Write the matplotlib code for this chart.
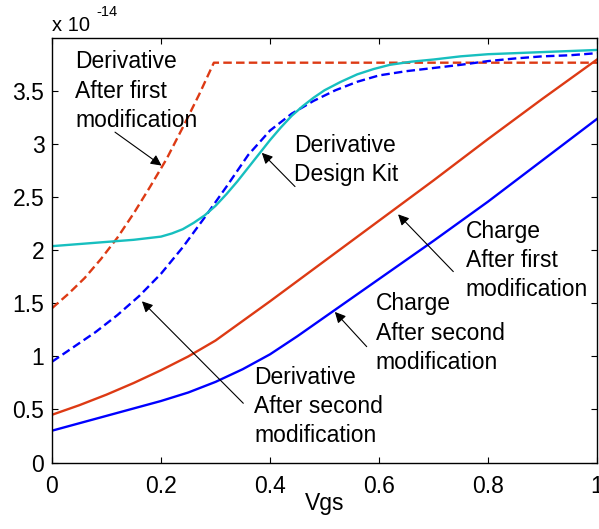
import numpy as np
import matplotlib
matplotlib.use("Agg")
import matplotlib.pyplot as plt

plt.rcParams['font.family'] = ['Liberation Sans', 'DejaVu Sans']

SCALE = 1e-14

# Derivative after first modification (red dashed)
x_der1 = [0.0, 0.03, 0.06, 0.09, 0.12, 0.15, 0.18, 0.21, 0.24, 0.27, 0.297, 1.0]
y_der1 = [1.455, 1.59, 1.74, 1.92, 2.12, 2.35, 2.60, 2.86, 3.16, 3.47, 3.77, 3.77]

# Derivative after second modification (blue dashed)
x_der2 = [0.0, 0.04, 0.08, 0.12, 0.16, 0.20, 0.24, 0.28, 0.32, 0.36, 0.40, 0.44,
          0.48, 0.52, 0.56, 0.60, 0.65, 0.70, 0.75, 0.80, 0.85, 0.90, 0.95, 1.0]
y_der2 = [0.95, 1.09, 1.23, 1.39, 1.57, 1.78, 2.03, 2.31, 2.60, 2.90, 3.13, 3.29,
          3.41, 3.51, 3.59, 3.65, 3.69, 3.72, 3.75, 3.785, 3.81, 3.83, 3.84, 3.86]

# Derivative from the design kit (cyan)
x_kit = [0.0, 0.05, 0.10, 0.15, 0.20, 0.22, 0.24, 0.26, 0.28, 0.30, 0.32, 0.34,
         0.36, 0.38, 0.40, 0.42, 0.44, 0.46, 0.48, 0.50, 0.53, 0.56, 0.59, 0.62,
         0.66, 0.70, 0.75, 0.80, 0.85, 0.90, 0.95, 1.0]
y_kit = [2.04, 2.06, 2.08, 2.10, 2.13, 2.16, 2.20, 2.26, 2.33, 2.42, 2.53, 2.65,
         2.78, 2.91, 3.04, 3.16, 3.27, 3.36, 3.44, 3.51, 3.59, 3.66, 3.71, 3.75,
         3.78, 3.80, 3.83, 3.85, 3.86, 3.87, 3.88, 3.89]

# Charge after first modification (red solid)
x_q1 = [0.0, 0.05, 0.1, 0.15, 0.2, 0.25, 0.3, 0.4, 0.5, 0.6, 0.7, 0.8, 0.9, 1.0]
y_q1 = [0.45, 0.54, 0.64, 0.75, 0.87, 1.00, 1.15, 1.52, 1.90, 2.28, 2.66, 3.05, 3.43, 3.80]

# Charge after second modification (blue solid)
x_q2 = [0.0, 0.05, 0.1, 0.15, 0.2, 0.25, 0.3, 0.35, 0.4, 0.45, 0.5, 0.6, 0.7, 0.8, 0.9, 1.0]
y_q2 = [0.30, 0.37, 0.44, 0.51, 0.58, 0.66, 0.76, 0.88, 1.02, 1.19, 1.37, 1.73, 2.09, 2.46, 2.85, 3.24]

y_ticks = [0, 0.5, 1, 1.5, 2, 2.5, 3, 3.5]
y_tick_labels = ['0', '0.5', '1', '1.5', '2', '2.5', '3', '3.5']
x_ticks = [0, 0.2, 0.4, 0.6, 0.8, 1]
x_tick_labels = ['0', '0.2', '0.4', '0.6', '0.8', '1']

RED = '#dd3a14'
BLUE = '#0000ff'
CYAN = '#17bfbf'

FS = 16.5
LW = 1.7

fig = plt.figure(figsize=(5.99, 5.29), dpi=100)
ax = fig.add_axes([0.0868, 0.1257, 0.9099, 0.8019])

def s(v):
    return np.asarray(v) * SCALE

dash = (0, (3.6, 1.8))
ax.plot(x_der1, s(y_der1), color=RED, lw=LW, linestyle=dash)
ax.plot(x_der2, s(y_der2), color=BLUE, lw=LW, linestyle=dash)
ax.plot(x_kit, s(y_kit), color=CYAN, lw=LW)
ax.plot(x_q1, s(y_q1), color=RED, lw=LW)
ax.plot(x_q2, s(y_q2), color=BLUE, lw=LW)

ax.set_xlim(0, 1)
ax.set_ylim(0, 4.0 * SCALE)
ax.set_xticks(x_ticks)
ax.set_xticklabels(x_tick_labels)
ax.set_yticks(s(y_ticks))
ax.set_yticklabels(y_tick_labels)
ax.tick_params(direction='in', length=4, width=0.8, top=True, right=True,
               labelsize=FS)
ax.tick_params(axis='x', pad=9)
ax.tick_params(axis='y', pad=5.5)
for sp in ax.spines.values():
    sp.set_linewidth(1.0)
ax.set_xlabel('Vgs', fontsize=FS, labelpad=-4)

# exponent label above the y axis
fig.text(51.7 / 599, 1 - 30.7 / 529, 'x 10', fontsize=14.5, ha='left', va='baseline')
fig.text(96.5 / 599, 1 - 16.0 / 529, '-14', fontsize=10.5, ha='left', va='baseline')

def px(xp, yp):
    return ((xp - 52) / 545, (462.5 - yp) / 106 * SCALE)

labels = [
    ('Derivative\nAfter first\nmodification', (75, 50.5), (0.201, 2.80), (115, 132.3)),
    ('Derivative\nDesign Kit', (294.3, 134), (0.385, 2.92), (295, 186.7)),
    ('Charge\nAfter first\nmodification', (465.7, 220), (0.635, 2.34), (453.3, 271.7)),
    ('Charge\nAfter second\nmodification', (375.7, 292.3), (0.519, 1.42), (366.7, 346.7)),
    ('Derivative\nAfter second\nmodification', (254, 365.7), (0.165, 1.52), (243.3, 403.3)),
]
for text, tpos, tip, tail in labels:
    tx, ty = px(*tpos)
    ax.text(tx, ty, text, fontsize=FS, ha='left', va='top', linespacing=1.35)
    ax.annotate('', xy=(tip[0], tip[1] * SCALE), xytext=px(*tail),
                arrowprops=dict(arrowstyle='-|>', color='black', lw=0.8,
                                mutation_scale=16, shrinkA=0, shrinkB=0))

ax.yaxis.get_offset_text().set_visible(False)
fig.savefig('out.png', dpi=100)
